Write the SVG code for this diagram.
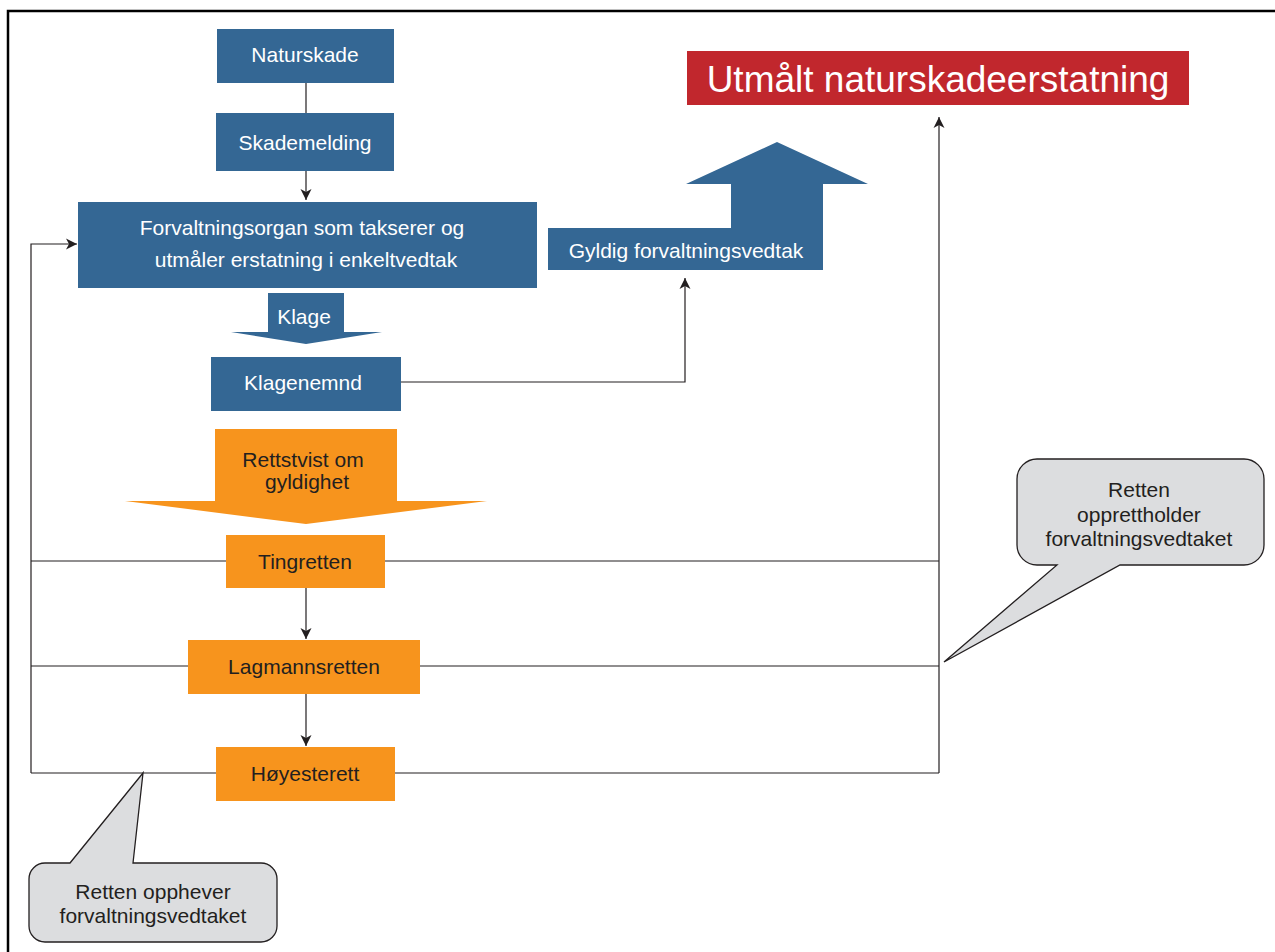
<svg xmlns="http://www.w3.org/2000/svg" width="1275" height="952" viewBox="0 0 1275 952">
<style>
.blue{fill:#346794}
.orange{fill:#f7941d}
.wt{fill:#ffffff;font-family:"Liberation Sans",Arial,sans-serif;font-size:21px;text-anchor:middle}
.dt{fill:#231f20;font-family:"Liberation Sans",Arial,sans-serif;font-size:21px;text-anchor:middle}
.conn{fill:none;stroke:#231f20;stroke-width:1.2}
.call{fill:#dcdddf;stroke:#231f20;stroke-width:1.3}
</style>
<defs>
<marker id="ah" markerUnits="userSpaceOnUse" markerWidth="12" markerHeight="12" refX="11" refY="6" orient="auto">
<path d="M0,0.5 L11,6 L0,11.5 L3,6 Z" fill="#231f20"/>
</marker>
</defs>
<rect x="8" y="11" width="1290" height="1000" fill="#ffffff" stroke="#000000" stroke-width="2.5"/>
<g id="connectors">
<path class="conn" d="M306,83 V113"/>
<path class="conn" d="M306,171 V200" marker-end="url(#ah)"/>
<path class="conn" d="M31,773 V244 H77" marker-end="url(#ah)"/>
<path class="conn" d="M401,382 H685 V278" marker-end="url(#ah)"/>
<path class="conn" d="M939,773 V117" marker-end="url(#ah)"/>
<path class="conn" d="M306,588 V639" marker-end="url(#ah)"/>
<path class="conn" d="M306,694 V746" marker-end="url(#ah)"/>
<path class="conn" d="M31,561 H226 M385,561 H939"/>
<path class="conn" d="M31,666 H188 M420,666 H939"/>
<path class="conn" d="M31,773 H216 M395,773 H939"/>
</g>
<g id="naturskade">
<rect class="blue" x="217" y="29" width="177" height="54"/>
<text class="wt" x="305" y="62">Naturskade</text>
</g>
<g id="skademelding">
<rect class="blue" x="216" y="113" width="178" height="58"/>
<text class="wt" x="305" y="150">Skademelding</text>
</g>
<g id="forvaltningsorgan">
<rect class="blue" x="78" y="202" width="459" height="86"/>
<text class="wt" x="302" y="235">Forvaltningsorgan som takserer og</text>
<text class="wt" x="306" y="267">utmåler erstatning i enkeltvedtak</text>
</g>
<g id="klage">
<polygon class="blue" points="268,293 344,293 344,332 382,332 306,344 231,332 268,332"/>
<text class="wt" x="304" y="324">Klage</text>
</g>
<g id="klagenemnd">
<rect class="blue" x="211" y="357" width="190" height="54"/>
<text class="wt" x="303" y="390">Klagenemnd</text>
</g>
<g id="gyldig">
<polygon class="blue" points="548,228 731,228 731,184 686,184 777,142 868,184 823,184 823,270 548,270"/>
<text class="wt" x="686" y="258">Gyldig forvaltningsvedtak</text>
</g>
<g id="utmalt">
<rect x="687" y="51" width="502" height="54" fill="#c1272d"/>
<text class="wt" x="938" y="92" style="font-size:37px">Utmålt naturskadeerstatning</text>
</g>
<g id="rettstvist">
<polygon class="orange" points="215,429 397,429 397,501 487,501 306,524 125,501 215,501"/>
<text class="dt" x="303" y="467">Rettstvist om</text>
<text class="dt" x="307" y="489">gyldighet</text>
</g>
<g id="tingretten">
<rect class="orange" x="226" y="535" width="159" height="53"/>
<text class="dt" x="305" y="569">Tingretten</text>
</g>
<g id="lagmannsretten">
<rect class="orange" x="188" y="640" width="232" height="54"/>
<text class="dt" x="304" y="674">Lagmannsretten</text>
</g>
<g id="hoyesterett">
<rect class="orange" x="216" y="747" width="179" height="54"/>
<text class="dt" x="305" y="781">Høyesterett</text>
</g>
<g id="callout-oppretthold">
<path class="call" d="M1037,459 H1244 A20,20 0 0 1 1264,479 V545 A20,20 0 0 1 1244,565 H1120 L944,662 L1057,565 H1037 A20,20 0 0 1 1017,545 V479 A20,20 0 0 1 1037,459 Z"/>
<text class="dt" x="1139" y="497">Retten</text>
<text class="dt" x="1139" y="522">opprettholder</text>
<text class="dt" x="1139" y="546">forvaltningsvedtaket</text>
</g>
<g id="callout-opphever">
<path class="call" d="M45,863 H70 L143,773 L133,863 H261 A16,16 0 0 1 277,879 V926 A16,16 0 0 1 261,942 H45 A16,16 0 0 1 29,926 V879 A16,16 0 0 1 45,863 Z"/>
<text class="dt" x="153" y="899">Retten opphever</text>
<text class="dt" x="153" y="923">forvaltningsvedtaket</text>
</g>
</svg>
